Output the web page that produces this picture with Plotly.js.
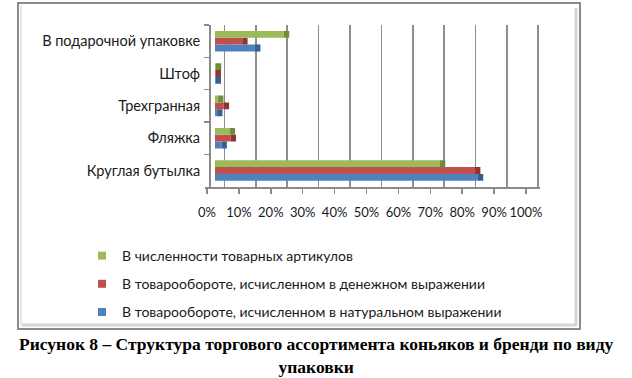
<!DOCTYPE html>
<html>
<head>
<meta charset="utf-8">
<script src="https://cdn.plot.ly/plotly-3.0.1.min.js"></script>
<style>html,body{margin:0;padding:0;background:#fff;}#chart{width:632px;height:378px;}</style>
</head>
<body>
<div id="chart"></div>
<script>
// ---- data ----
const categories = ['Круглая бутылка', 'Фляжка', 'Трехгранная', 'Штоф', 'В подарочной упаковке'];
const seriesNames = [
  'В численности товарных артикулов',
  'В товарообороте, исчисленном в денежном выражении',
  'В товарообороте, исчисленном в натуральном выражении'
];
const articlesShare = [71.8, 4.7, 1.0, 0.3, 22.0];   // green
const moneyShare    = [83.0, 5.0, 2.8, 0.2, 8.7];    // red
const naturalShare  = [83.9, 2.1, 0.7, 0.2, 12.8];   // blue
const tickValues = [0, 10, 20, 30, 40, 50, 60, 70, 80, 90, 100];
const captionText = 'Рисунок 8 – Структура торгового ассортимента коньяков и бренди по виду<br>упаковки';

// ---- styles ----
const W = 632, H = 378;
const colors = {green: '#9BBB59', red: '#C0504D', blue: '#4F81BD'};
const darkColors = {green: '#6F8C3C', red: '#8E3533', blue: '#365F8F'};
const BAR_W = 0.212;
const CAP = 1.7; // 3D side depth, in axis units
const font = 'Lato, Carlito, "Open Sans", sans-serif';
const px = v => v / W;
const py = v => 1 - v / H;

const series = [
  {name: seriesNames[2], vals: naturalShare, c: 'blue', off: -1.5 * BAR_W},
  {name: seriesNames[1], vals: moneyShare,   c: 'red',  off: -0.5 * BAR_W},
  {name: seriesNames[0], vals: articlesShare, c: 'green', off: 0.5 * BAR_W}
];

const traces = [];
series.forEach(s => {
  traces.push({
    type: 'bar', orientation: 'h', y: categories, x: s.vals,
    width: BAR_W, offset: s.off, marker: {color: colors[s.c]},
    showlegend: false, hoverinfo: 'skip', xaxis: 'x', yaxis: 'y'
  });
  traces.push({
    type: 'bar', orientation: 'h', y: categories, x: s.vals.map(() => CAP), base: s.vals,
    width: BAR_W, offset: s.off, marker: {color: darkColors[s.c]},
    showlegend: false, hoverinfo: 'skip', xaxis: 'x', yaxis: 'y'
  });
});
// legend entries (green, red, blue)
[['green', seriesNames[0]], ['red', seriesNames[1]], ['blue', seriesNames[2]]].forEach((p, i) => {
  traces.push({
    type: 'scatter', mode: 'markers', x: [null], y: [null], name: p[1],
    legendgroup: 'g' + i, marker: {symbol: 'square', size: 8, color: colors[p[0]]},
    xaxis: 'x', yaxis: 'y', hoverinfo: 'skip'
  });
});
// helper traces so overlay axes are drawn
traces.push({type: 'scatter', x: [], y: [], xaxis: 'x2', yaxis: 'y', showlegend: false, hoverinfo: 'skip'});
traces.push({type: 'scatter', x: [], y: [], xaxis: 'x3', yaxis: 'y', showlegend: false, hoverinfo: 'skip'});

const dom = [px(205), px(540)];
const layout = {
  width: W, height: H,
  margin: {l: 0, r: 0, t: 0, b: 0},
  paper_bgcolor: '#ffffff', plot_bgcolor: 'rgba(0,0,0,0)',
  barmode: 'overlay',
  font: {family: font, size: 14, color: '#1a1a1a'},
  showlegend: true,
  legend: {
    x: px(82), y: py(240), xanchor: 'left', yanchor: 'top',
    traceorder: 'grouped', tracegroupgap: 7,
    font: {family: font, size: 14, color: '#1a1a1a'}, bgcolor: 'rgba(0,0,0,0)'
  },
  xaxis: {
    domain: dom, range: [-3.19, 103.73], showgrid: false, zeroline: false,
    showticklabels: false, ticks: '', showline: false, fixedrange: true
  },
  xaxis2: {
    domain: dom, overlaying: 'x', anchor: 'y', range: [-6.15, 100.54],
    tickvals: tickValues, showgrid: true, gridcolor: '#8e8e8e', gridwidth: 1.6,
    showticklabels: false, ticks: '', zeroline: false, showline: false
  },
  xaxis3: {
    domain: dom, overlaying: 'x', anchor: 'y', range: [-0.63, 104.39],
    tickvals: tickValues, ticktext: tickValues.map(v => v + '%'),
    showgrid: false, zeroline: false, showline: true, linecolor: '#8a8a8a', linewidth: 2,
    ticks: 'outside', ticklen: 5, tickcolor: '#8a8a8a', tickwidth: 1.5,
    ticklabelstandoff: 8, tickfont: {family: font, size: 13, color: '#1a1a1a'}
  },
  yaxis: {
    domain: [1 - 186.7 / H, 1 - 25 / H], type: 'category', categoryarray: categories,
    anchor: 'free', position: px(210), range: [-0.5, 4.5],
    showgrid: false, zeroline: false, showline: true, linecolor: '#8a8a8a', linewidth: 2,
    ticks: 'outside', tickson: 'boundaries', ticklen: 5, tickcolor: '#8a8a8a', tickwidth: 1.5,
    ticklabelstandoff: 6, tickfont: {family: font, size: 14.5, color: '#1a1a1a'}, fixedrange: true
  },
  shapes: [
    {type: 'rect', xref: 'paper', yref: 'paper', x0: px(18), x1: px(580), y0: py(329), y1: py(3),
     line: {color: '#8a8a8a', width: 2}, fillcolor: 'rgba(0,0,0,0)', layer: 'below'},
    {type: 'line', xref: 'paper', yref: 'paper', x0: px(576), x1: px(576), y0: py(326), y1: py(8),
     line: {color: '#d6d6d6', width: 3}, layer: 'below'},
    {type: 'line', xref: 'paper', yref: 'paper', x0: px(22), x1: px(576), y0: py(325), y1: py(325),
     line: {color: '#d6d6d6', width: 3}, layer: 'below'},
    {type: 'line', xref: 'paper', yref: 'paper', x0: px(21), x1: px(21), y0: py(325), y1: py(5),
     line: {color: '#e6e6e6', width: 2}, layer: 'below'}
  ],
  annotations: [
    {xref: 'paper', yref: 'paper', x: 0.5, y: py(332), xanchor: 'center', yanchor: 'top',
     text: captionText, showarrow: false, align: 'center',
     font: {family: '"Liberation Serif", "Times New Roman", serif', size: 17.5, color: '#000', weight: 'bold'}}
  ]
};

Plotly.newPlot('chart', traces, layout, {staticPlot: true, displayModeBar: false});
</script>
</body>
</html>
